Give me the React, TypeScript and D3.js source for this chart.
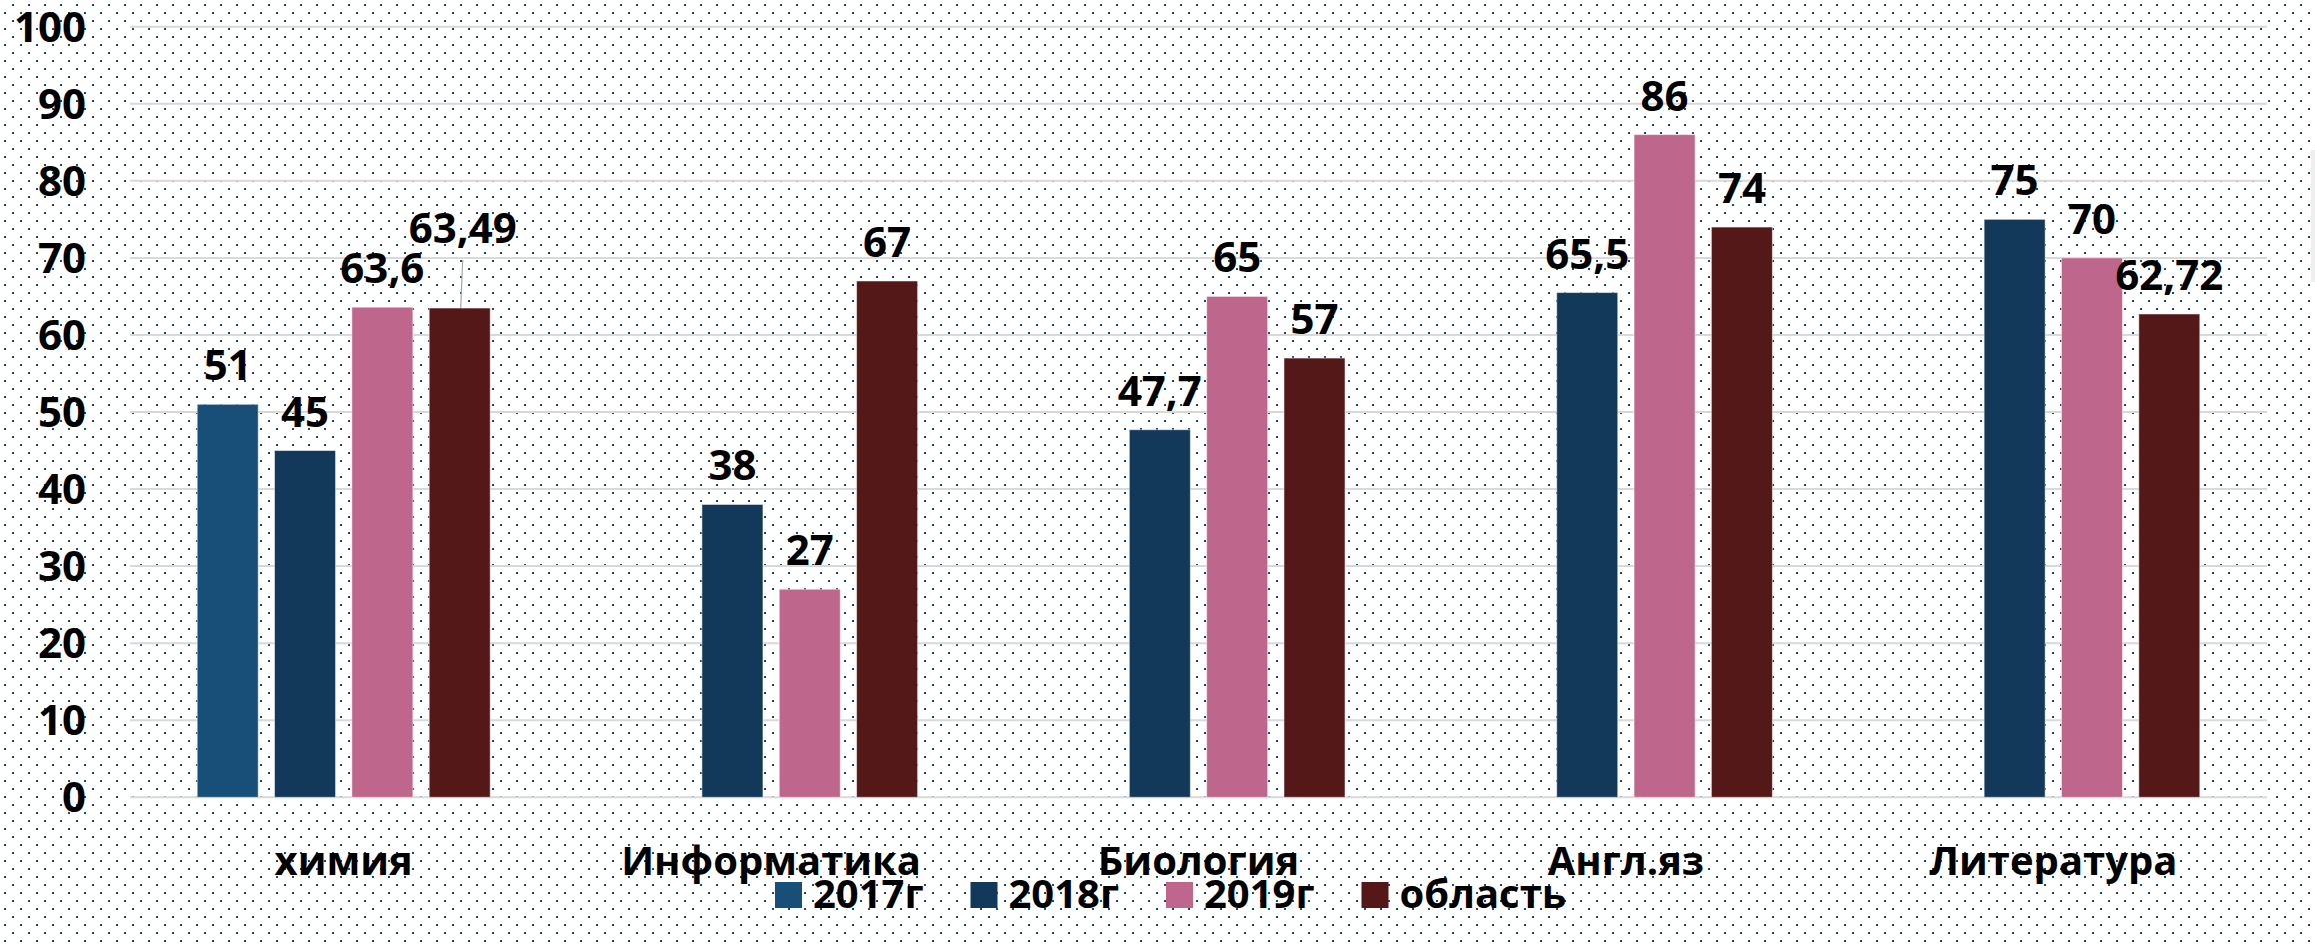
// Grouped bar chart: exam results by subject, drawn with d3 into an svg ref
import React, { useRef, useEffect } from 'react';
import * as d3 from 'd3';

// ---- data ----
const subjects = ['химия', 'Информатика', 'Биология', 'Англ.яз', 'Литература'];
const seriesNames = ['2017г', '2018г', '2019г', 'область'];
const values2017 = [51, null, null, null, null];
const values2018 = [45, 38, 47.7, 65.5, 75];
const values2019 = [63.6, 27, 65, 86, 70];
const valuesRegion = [63.49, 67, 57, 74, 62.72];
const yTicks = [0, 10, 20, 30, 40, 50, 60, 70, 80, 90, 100];

const seriesColors = ['#174f78', '#12385a', '#bf668d', '#551818'];

const width = 2315;
const height = 947;
const font = "'Open Sans', 'Noto Sans', sans-serif";

export default function App() {
  const ref = useRef(null);

  useEffect(() => {
    document.body.style.margin = '0';
    const svg = d3.select(ref.current);
    svg.selectAll('*').remove();

    const allSeries = [values2017, values2018, values2019, valuesRegion];
    // flatten to rows for the bars
    const rows = [];
    subjects.forEach((s, i) => {
      seriesNames.forEach((n, j) => {
        const v = allSeries[j][i];
        if (v !== null && v !== undefined) rows.push({ subject: s, series: n, value: v, idx: j });
      });
    });

    // background with the dotted pattern
    const defs = svg.append('defs');
    const pat = defs.append('pattern')
      .attr('id', 'dots')
      .attr('patternUnits', 'userSpaceOnUse')
      .attr('width', 16)
      .attr('height', 16);
    pat.append('rect').attr('x', 12).attr('y', 4).attr('width', 2).attr('height', 2).attr('fill', '#1b4a72');
    pat.append('rect').attr('x', 4).attr('y', 12).attr('width', 2).attr('height', 2).attr('fill', '#1b4a72');

    svg.append('rect').attr('width', width).attr('height', height).attr('fill', '#ffffff');
    svg.append('rect').attr('width', width).attr('height', height).attr('fill', 'url(#dots)');
    // faint border piece on the right side
    svg.append('rect').attr('x', 2311).attr('y', 150).attr('width', 4).attr('height', 132).attr('fill', '#efefef');

    const xScale = d3.scaleBand()
      .domain(subjects)
      .range([130, 2267])
      .padding(0);

    const groupW = 293;
    const offset = (xScale.bandwidth() - groupW) / 2;
    const xInner = d3.scaleBand()
      .domain(seriesNames)
      .range([offset, offset + groupW])
      .paddingInner(0.211)
      .paddingOuter(0);

    const yScale = d3.scaleLinear()
      .domain([0, 100])
      .range([797.3, 26.7]);

    // gridlines
    svg.append('g')
      .selectAll('line')
      .data(yTicks)
      .enter()
      .append('line')
      .attr('x1', 130)
      .attr('x2', 2267)
      .attr('y1', d => yScale(d))
      .attr('y2', d => yScale(d))
      .attr('stroke', '#d9d9d9')
      .attr('stroke-width', 2);

    // y tick labels
    svg.append('g')
      .selectAll('text')
      .data(yTicks)
      .enter()
      .append('text')
      .attr('x', 86)
      .attr('y', d => yScale(d) + 15)
      .attr('text-anchor', 'end')
      .style('font-family', font)
      .style('font-weight', 700)
      .style('font-size', '42px')
      .attr('fill', '#000')
      .text(d => d);

    // bars
    svg.append('g')
      .selectAll('rect')
      .data(rows)
      .enter()
      .append('rect')
      .attr('x', d => xScale(d.subject) + xInner(d.series))
      .attr('y', d => yScale(d.value))
      .attr('width', xInner.bandwidth())
      .attr('height', d => yScale(0) - yScale(d.value))
      .attr('fill', d => seriesColors[d.idx])
      .attr('stroke', '#ffffff')
      .attr('stroke-opacity', 0.5)
      .attr('stroke-width', 1);

    // the one label that got dragged up in the original, with a leader line
    const lifted = (d) => d.subject === 'химия' && d.series === 'область';

    const labels = svg.append('g');
    rows.forEach(d => {
      const cx = xScale(d.subject) + xInner(d.series) + xInner.bandwidth() / 2;
      const top = yScale(d.value);
      let lx = cx;
      let ly = top - 24;
      if (lifted(d)) {
        lx = cx + 3;
        ly = top - 65;
        labels.append('line')
          .attr('x1', lx)
          .attr('y1', ly + 17)
          .attr('x2', cx + 1)
          .attr('y2', top)
          .attr('stroke', '#a6a6a6')
          .attr('stroke-width', 1.2);
      }
      labels.append('text')
        .attr('x', lx)
        .attr('y', ly)
        .attr('text-anchor', 'middle')
        .style('font-family', font)
        .style('font-weight', 700)
        .style('font-size', '42px')
        .attr('fill', '#000')
        .text(String(d.value).replace('.', ','));
    });

    // category labels
    svg.append('g')
      .selectAll('text')
      .data(subjects)
      .enter()
      .append('text')
      .attr('x', d => xScale(d) + xScale.bandwidth() / 2)
      .attr('y', 875)
      .attr('text-anchor', 'middle')
      .style('font-family', font)
      .style('font-weight', 700)
      .style('font-size', '40px')
      .attr('fill', '#000')
      .text(d => d);

    // legend
    const legendX = d3.scaleBand().domain(seriesNames).range([775, 1557]);
    const lg = svg.append('g')
      .selectAll('g')
      .data(seriesNames)
      .enter()
      .append('g')
      .attr('transform', d => `translate(${legendX(d)},0)`);
    lg.append('rect')
      .attr('x', 0)
      .attr('y', 882)
      .attr('width', 27)
      .attr('height', 26)
      .attr('fill', (d, i) => seriesColors[i]);
    lg.append('text')
      .attr('x', 38)
      .attr('y', 908)
      .style('font-family', font)
      .style('font-weight', 700)
      .style('font-size', '40px')
      .attr('fill', '#000')
      .text(d => d);
  }, []);

  return <svg ref={ref} width={width} height={height} style={{ display: 'block' }} />;
}
